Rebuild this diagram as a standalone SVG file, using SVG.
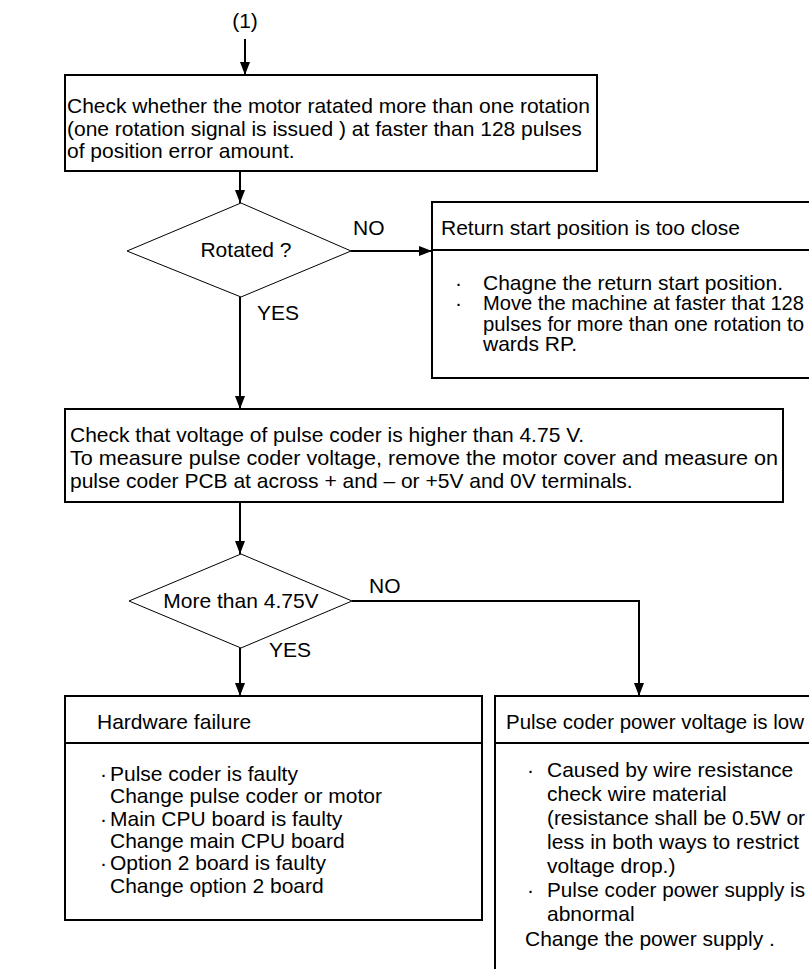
<svg xmlns="http://www.w3.org/2000/svg" width="809" height="969" viewBox="0 0 809 969">
<style>
text{font-family:"Liberation Sans",Arial,sans-serif;font-size:21px;fill:#000}
.box{fill:#fff;stroke:#000;stroke-width:2}
.dia{fill:#fff;stroke:#000;stroke-width:1}
.div{stroke:#000;stroke-width:2}
.con{fill:none;stroke:#000;stroke-width:2}
</style>
<defs>
<marker id="ah" markerUnits="userSpaceOnUse" markerWidth="13" markerHeight="10" refX="13" refY="5" orient="auto">
<path d="M0,0 L13,5 L0,10 z" fill="#000"/>
</marker>
</defs>
<rect width="809" height="969" fill="#fff"/>
<g id="start"><text x="245" y="28" text-anchor="middle">(1)</text></g>
<g id="box1">
<rect class="box" x="65" y="75" width="532" height="96"/>
<text x="67" y="113">Check whether the motor ratated more than one rotation</text>
<text x="67" y="136">(one rotation signal is issued ) at faster than 128 pulses</text>
<text x="67" y="158">of position error amount.</text>
</g>
<g id="dia1">
<polygon class="dia" points="241,203 351,251 241,297 127,251"/>
<text x="246" y="257" text-anchor="middle">Rotated ?</text>
</g>
<g id="box2">
<rect class="box" x="432" y="202" width="420" height="176"/>
<line class="div" x1="432" y1="250" x2="809" y2="250"/>
<text x="441" y="235">Return start position is too close</text>
<text y="290"><tspan x="455">·</tspan><tspan x="483">Chagne the return start position.</tspan></text>
<text y="310"><tspan x="455">·</tspan><tspan x="483" textLength="321" lengthAdjust="spacingAndGlyphs">Move the machine at faster that 128</tspan></text>
<text x="483" y="331" textLength="321" lengthAdjust="spacingAndGlyphs">pulses for more than one rotation to</text>
<text x="483" y="351">wards RP.</text>
</g>
<g id="box3">
<rect class="box" x="65" y="409" width="718" height="93"/>
<text x="70" y="442">Check that voltage of pulse coder is higher than 4.75 V.</text>
<text x="70" y="465" textLength="708" lengthAdjust="spacingAndGlyphs">To measure pulse coder voltage, remove the motor cover and measure on</text>
<text x="70" y="488">pulse coder PCB at across + and – or +5V and 0V terminals.</text>
</g>
<g id="dia2">
<polygon class="dia" points="241,554 352,601 241,648 129,601"/>
<text x="241" y="608" text-anchor="middle">More than 4.75V</text>
</g>
<g id="box4">
<rect class="box" x="65" y="696" width="417" height="224"/>
<line class="div" x1="65" y1="743" x2="482" y2="743"/>
<text x="97" y="729">Hardware failure</text>
<text y="781"><tspan x="100">·</tspan><tspan x="110">Pulse coder is faulty</tspan></text>
<text x="110" y="803">Change pulse coder or motor</text>
<text y="826"><tspan x="100">·</tspan><tspan x="110">Main CPU board is faulty</tspan></text>
<text x="110" y="848">Change main CPU board</text>
<text y="870"><tspan x="100">·</tspan><tspan x="110">Option 2 board is faulty</tspan></text>
<text x="110" y="893">Change option 2 board</text>
</g>
<g id="box5">
<rect class="box" x="495" y="696" width="420" height="400"/>
<line class="div" x1="495" y1="743" x2="809" y2="743"/>
<text x="506" y="729" textLength="298" lengthAdjust="spacingAndGlyphs">Pulse coder power voltage is low</text>
<text y="777"><tspan x="527">·</tspan><tspan x="547">Caused  by wire resistance</tspan></text>
<text x="547" y="801">check wire material</text>
<text x="547" y="825" textLength="258" lengthAdjust="spacingAndGlyphs">(resistance shall be 0.5W or</text>
<text x="547" y="849">less in both ways to restrict</text>
<text x="547" y="873">voltage drop.)</text>
<text y="897"><tspan x="527">·</tspan><tspan x="547" textLength="258" lengthAdjust="spacingAndGlyphs">Pulse coder power supply is</tspan></text>
<text x="547" y="921">abnormal</text>
<text x="525" y="946">Change the power supply .</text>
</g>
<g id="connectors">
<line class="con" x1="245" y1="39" x2="245" y2="75" marker-end="url(#ah)"/>
<line class="con" x1="240" y1="171" x2="240" y2="203" marker-end="url(#ah)"/>
<line class="con" x1="351" y1="251" x2="432" y2="251" marker-end="url(#ah)"/>
<line class="con" x1="240" y1="297" x2="240" y2="409" marker-end="url(#ah)"/>
<line class="con" x1="240" y1="502" x2="240" y2="554" marker-end="url(#ah)"/>
<polyline class="con" points="352,601 639,601 639,696" marker-end="url(#ah)"/>
<line class="con" x1="240" y1="648" x2="240" y2="696" marker-end="url(#ah)"/>
<text x="353" y="235">NO</text>
<text x="257" y="320">YES</text>
<text x="369" y="593">NO</text>
<text x="269" y="657">YES</text>
</g>
</svg>
